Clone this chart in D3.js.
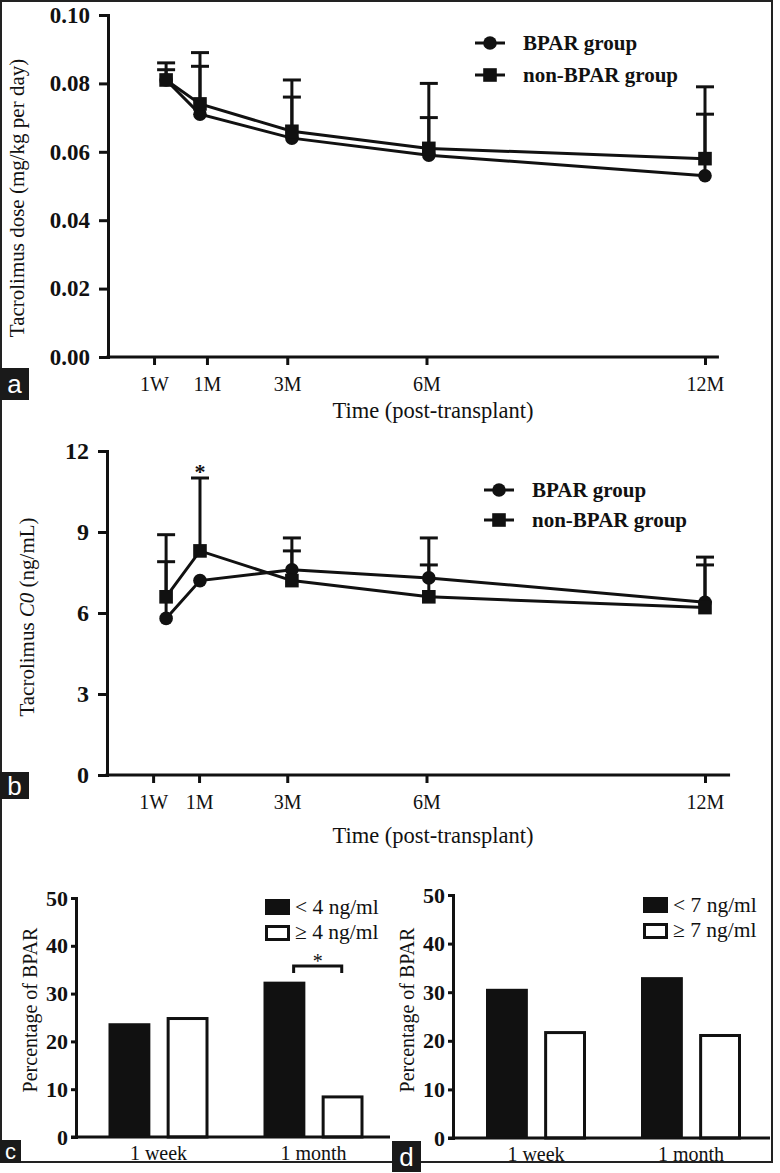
<!DOCTYPE html>
<html><head><meta charset="utf-8">
<script src="https://cdn.jsdelivr.net/npm/d3@7/dist/d3.min.js"></script>
<style>body{margin:0;background:#fff}svg{display:block}</style>
</head><body>
<svg id="c" width="780" height="1173"></svg>
<script>
// ---------- data ----------
const timeLabels = ["1W","1M","3M","6M","12M"];
const tickMonthsA = [0.13, 1.27, 3, 6, 12];
const tickMonthsB = [0.11, 1.1, 3, 6, 12];
const pointMonths = [0.39, 1.12, 3.1, 6.05, 12];

const doseBPAR = [0.081, 0.071, 0.064, 0.059, 0.053];
const doseBPARUpper = [0.086, 0.089, 0.081, 0.080, 0.079];
const doseNon = [0.081, 0.074, 0.066, 0.061, 0.058];
const doseNonUpper = [0.084, 0.085, 0.076, 0.070, 0.071];
const doseTicks = [0, 0.02, 0.04, 0.06, 0.08, 0.10];

const c0BPAR = [5.8, 7.2, 7.6, 7.3, 6.4];
const c0BPARUpper = [7.9, null, 8.3, 7.78, 7.78];
const c0Non = [6.6, 8.3, 7.2, 6.6, 6.2];
const c0NonUpper = [8.9, 11.0, 8.78, 8.78, 8.07];
const c0Ticks = [0, 3, 6, 9, 12];

const barGroups = ["1 week", "1 month"];
const cLow = [23.8, 32.5];   // < 4 ng/ml
const cHigh = [25.1, 8.7];   // >= 4 ng/ml
const dLow = [30.7, 33.1];   // < 7 ng/ml
const dHigh = [22.0, 21.4];  // >= 7 ng/ml
const pctTicks = [0, 10, 20, 30, 40, 50];
const seriesNames = ["BPAR group", "non-BPAR group"];

// ---------- drawing ----------
const svg = d3.select("#c");
const INK = "#111";
const SERIF = "'Liberation Serif','Times New Roman',serif";
const SANS = "'Liberation Sans',Arial,sans-serif";

// outer frame
svg.append("rect").attr("x",1).attr("y",1).attr("width",771).attr("height",1161)
  .attr("fill","none").attr("stroke","#222").attr("stroke-width",2);

function panelLabel(txt, x, y, w, h, fs){
  svg.append("rect").attr("x",x).attr("y",y).attr("width",w).attr("height",h).attr("fill","#1a1a1a");
  svg.append("text").attr("x",x+w/2).attr("y",y+h/2+fs*0.36).attr("text-anchor","middle")
    .attr("font-family",SANS).attr("font-size",fs).attr("fill","#fff").text(txt);
}

function linePanel(opt){
  const x = d3.scaleLinear().domain([0,12]).range([148,705]);
  const y = d3.scaleLinear().domain(opt.yDomain).range([opt.y0, opt.y1]);
  const g = svg.append("g");
  // y axis
  const ya = g.append("g").attr("transform",`translate(${opt.yAxisX},0)`)
    .call(d3.axisLeft(y).tickValues(opt.yTicks).tickFormat(opt.fmt).tickSize(9).tickPadding(9));
  ya.select(".domain").attr("stroke",INK).attr("stroke-width",3);
  ya.selectAll(".tick line").attr("stroke",INK).attr("stroke-width",3);
  ya.selectAll(".tick text").attr("font-family",SERIF).attr("font-weight","bold")
    .attr("font-size",opt.yfs).attr("fill",INK);
  // x axis line
  g.append("line").attr("x1",opt.yAxisX-1.5).attr("x2",x(opt.xEnd)).attr("y1",opt.y0).attr("y2",opt.y0)
    .attr("stroke",INK).attr("stroke-width",3);
  const xa = g.append("g").attr("transform",`translate(0,${opt.y0})`)
    .call(d3.axisBottom(x).tickValues(opt.xTicks).tickFormat((d,i)=>timeLabels[i]).tickSize(8).tickPadding(12).tickSizeOuter(0));
  xa.select(".domain").remove();
  xa.selectAll(".tick line").attr("stroke",INK).attr("stroke-width",3);
  xa.selectAll(".tick text").attr("font-family",SERIF).attr("font-size",20).attr("fill",INK);
  // axis titles
  g.append("text").attr("x",433).attr("y",opt.xTitleY).attr("text-anchor","middle")
    .attr("font-family",SERIF).attr("font-size",22.5).attr("fill",INK).text("Time (post-transplant)");
  const yt = g.append("text").attr("transform",`translate(${opt.yTitleX},${opt.yTitleY}) rotate(-90)`)
    .attr("text-anchor","middle").attr("font-family",SERIF).attr("font-size",21).attr("fill",INK);
  opt.yTitle(yt);

  const line = d3.line().x((d,i)=>x(pointMonths[i])).y(d=>y(d));
  [opt.s2, opt.s1].forEach(s=>{
    g.append("path").attr("d",line(s)).attr("fill","none").attr("stroke",INK).attr("stroke-width",3);
  });
  // error bars
  [[opt.s1,opt.u1],[opt.s2,opt.u2]].forEach(([s,u])=>{
    s.forEach((v,i)=>{
      if(u[i]==null) return;
      const px = x(pointMonths[i]);
      g.append("line").attr("x1",px).attr("x2",px).attr("y1",y(v)).attr("y2",y(u[i]))
        .attr("stroke",INK).attr("stroke-width",3);
      g.append("line").attr("x1",px-9).attr("x2",px+9).attr("y1",y(u[i])).attr("y2",y(u[i]))
        .attr("stroke",INK).attr("stroke-width",3);
    });
  });
  // markers
  opt.s1.forEach((v,i)=>{
    g.append("circle").attr("cx",x(pointMonths[i])).attr("cy",y(v)).attr("r",6.8).attr("fill",INK);
  });
  opt.s2.forEach((v,i)=>{
    g.append("rect").attr("x",x(pointMonths[i])-6.8).attr("y",y(v)-6.8).attr("width",13.6).attr("height",13.6).attr("fill",INK);
  });
  // legend
  const L = opt.legend;
  seriesNames.forEach((n,i)=>{
    const ly = L.y + i*L.dy;
    g.append("line").attr("x1",L.x-15).attr("x2",L.x+15).attr("y1",ly).attr("y2",ly).attr("stroke",INK).attr("stroke-width",3);
    if(i===0) g.append("circle").attr("cx",L.x).attr("cy",ly).attr("r",6.8).attr("fill",INK);
    else g.append("rect").attr("x",L.x-6.8).attr("y",ly-6.8).attr("width",13.6).attr("height",13.6).attr("fill",INK);
    g.append("text").attr("x",L.tx).attr("y",ly+7).attr("font-family",SERIF).attr("font-weight","bold")
      .attr("font-size",21).attr("fill",INK).text(n);
  });
  return {x,y,g};
}

// Panel a
linePanel({
  yDomain:[0,0.10], y0:357, y1:15, yAxisX:108, yTicks:doseTicks, fmt:d3.format(".2f"), yfs:23,
  xTicks:tickMonthsA, xEnd:12.3, xTitleY:418,
  yTitleX:24, yTitleY:198,
  yTitle: t=>t.text("Tacrolimus dose (mg/kg per day)"),
  s1:doseBPAR, u1:doseBPARUpper, s2:doseNon, u2:doseNonUpper,
  legend:{x:490, y:43, dy:32, tx:523}
});
panelLabel("a",0,368,29,32,26);

// Panel b
const pb = linePanel({
  yDomain:[0,12], y0:775, y1:451, yAxisX:107, yTicks:c0Ticks, fmt:d3.format("d"), yfs:24,
  xTicks:tickMonthsB, xEnd:12.54, xTitleY:843,
  yTitleX:34, yTitleY:617,
  yTitle: t=>{ t.append("tspan").text("Tacrolimus "); t.append("tspan").attr("font-style","italic").text("C0");
               t.append("tspan").text(" (ng/mL)"); },
  s1:c0BPAR, u1:c0BPARUpper, s2:c0Non, u2:c0NonUpper,
  legend:{x:499, y:490, dy:30, tx:532}
});
pb.g.append("text").attr("x",pb.x(pointMonths[1])).attr("y",pb.y(11.0)+1).attr("text-anchor","middle")
  .attr("font-family",SERIF).attr("font-weight","bold").attr("font-size",22).attr("fill",INK).text("*");
panelLabel("b",0,772,29,27,26);

// Bar panels
function barPanel(opt){
  const y = d3.scaleLinear().domain([0,50]).range([opt.y0, opt.y1]);
  const xo = d3.scaleBand().domain(barGroups).range([opt.gx0, opt.gx0+310]).padding(0);
  const xi = d3.scaleBand().domain([0,1]).range([-50,50]).paddingInner(0.28);
  const g = svg.append("g");
  barGroups.forEach((grp,gi)=>{
    const cx = xo(grp)+xo.bandwidth()/2;
    [opt.low[gi], opt.high[gi]].forEach((v,k)=>{
      const bx = cx + xi(k), bw = xi.bandwidth();
      if(k===0) g.append("rect").attr("x",bx).attr("y",y(v)).attr("width",bw).attr("height",opt.y0-y(v)).attr("fill",INK);
      else g.append("rect").attr("x",bx+1.5).attr("y",y(v)+1.5).attr("width",bw-3).attr("height",opt.y0-y(v)-1.5)
        .attr("fill","#fff").attr("stroke",INK).attr("stroke-width",3);
    });
    g.append("text").attr("x",cx).attr("y",opt.y0+23).attr("text-anchor","middle").attr("font-family",SERIF)
      .attr("font-size",20).attr("fill",INK).text(grp);
  });
  const ya = g.append("g").attr("transform",`translate(${opt.ax},0)`)
    .call(d3.axisLeft(y).tickValues(pctTicks).tickSize(5).tickPadding(3));
  ya.select(".domain").attr("stroke",INK).attr("stroke-width",3);
  ya.selectAll(".tick line").attr("stroke",INK).attr("stroke-width",3);
  ya.selectAll(".tick text").attr("font-family",SERIF).attr("font-weight","bold").attr("font-size",22).attr("fill",INK);
  g.append("line").attr("x1",opt.ax-5).attr("x2",opt.xEnd).attr("y1",opt.y0).attr("y2",opt.y0).attr("stroke",INK).attr("stroke-width",3);
  g.append("text").attr("transform",`translate(${opt.ax-39},1010) rotate(-90)`).attr("text-anchor","middle")
    .attr("font-family",SERIF).attr("font-size",20).attr("fill",INK).text("Percentage of BPAR");
  // legend
  const L = opt.legend;
  g.append("rect").attr("x",L.x).attr("y",L.y).attr("width",25).attr("height",16).attr("fill",INK);
  g.append("rect").attr("x",L.x+1.5).attr("y",L.y+26+1.5).attr("width",22).attr("height",13).attr("fill","#fff").attr("stroke",INK).attr("stroke-width",3);
  g.append("text").attr("x",L.x+30).attr("y",L.y+15).attr("font-family",SERIF).attr("font-size",21.5).attr("fill",INK).text(L.t1);
  g.append("text").attr("x",L.x+30).attr("y",L.y+40).attr("font-family",SERIF).attr("font-size",21.5).attr("fill",INK).text(L.t2);
  return {y, xo, xi, g};
}

const pc = barPanel({y0:1137, y1:898, ax:76, gx0:81, xEnd:390, low:cLow, high:cHigh,
  legend:{x:265, y:899, t1:"< 4 ng/ml", t2:" ≥ 4 ng/ml"}});
// significance bracket
{
  const cx = pc.xo("1 month")+pc.xo.bandwidth()/2;
  const x1 = cx + pc.xi(0) + pc.xi.bandwidth()*0.72, x2 = cx + pc.xi(1) + pc.xi.bandwidth()*0.48;
  const by = pc.y(35.8);
  pc.g.append("path").attr("d",`M${x1},${by+7}V${by}H${x2}V${by+7}`).attr("fill","none").attr("stroke",INK).attr("stroke-width",3);
  pc.g.append("text").attr("x",(x1+x2)/2).attr("y",by+2).attr("text-anchor","middle").attr("font-family",SERIF)
    .attr("font-size",20).attr("fill",INK).text("*");
}
panelLabel("c",0,1140,21,23,22);

barPanel({y0:1138, y1:895, ax:453, gx0:458.5, xEnd:770, low:dLow, high:dHigh,
  legend:{x:643, y:897, t1:"< 7 ng/ml", t2:" ≥ 7 ng/ml"}});
panelLabel("d",392,1141,29,31,26);
</script>
</body></html>
